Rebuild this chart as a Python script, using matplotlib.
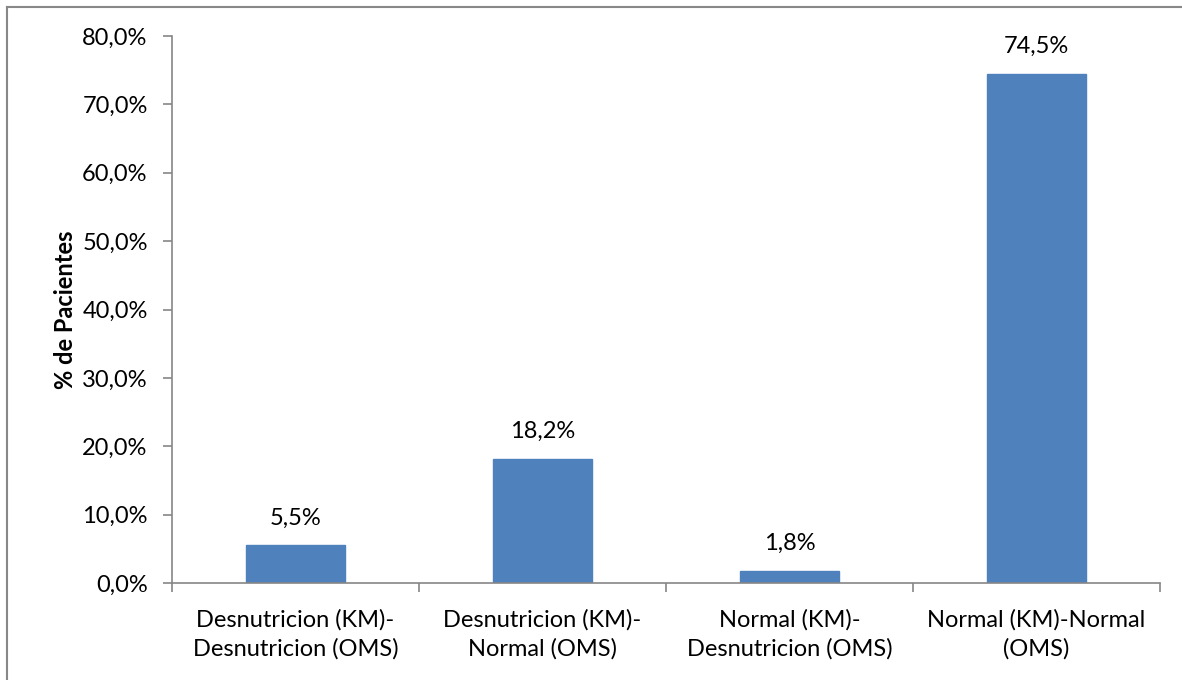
import matplotlib
matplotlib.use("Agg")
import matplotlib.pyplot as plt
from matplotlib.lines import Line2D
import numpy as np

categories = ["Desnutricion (KM)-\nDesnutricion (OMS)",
              "Desnutricion (KM)-\nNormal (OMS)",
              "Normal (KM)-\nDesnutricion (OMS)",
              "Normal (KM)-Normal\n(OMS)"]
values = [5.5, 18.2, 1.8, 74.5]
value_labels = ["5,5%", "18,2%", "1,8%", "74,5%"]
yticks = [0, 10, 20, 30, 40, 50, 60, 70, 80]
ytick_labels = ["0,0%", "10,0%", "20,0%", "30,0%", "40,0%", "50,0%", "60,0%", "70,0%", "80,0%"]
ylabel = "% de Pacientes"

plt.rcParams['font.family'] = ['Lato', 'DejaVu Sans']
FS = 17
W, H = 1182, 680
fig = plt.figure(figsize=(W / 100, H / 100), dpi=100)
ax = fig.add_axes([172 / W, 1 - 583 / H, (1160 - 172) / W, (583 - 36) / H])

axis_color = "#868686"
x = np.arange(len(categories))
ax.bar(x, values, width=0.4, color="#4F81BD", edgecolor="#4F81BD", zorder=2)
for xi, v, lab in zip(x, values, value_labels):
    ax.annotate(lab, (xi, v), xytext=(0, 15), textcoords="offset points",
                ha="center", va="baseline", fontsize=FS)

ax.set_xlim(-0.5, len(categories) - 0.5)
ax.set_ylim(0, 80)
ax.set_yticks(yticks)
ax.set_yticklabels(ytick_labels, fontsize=FS)
ax.set_xticks(np.arange(-0.5, len(categories), 1.0))
ax.set_xticklabels([])
ax.set_xticks(x, minor=True)
ax.set_xticklabels(categories, minor=True, fontsize=FS, linespacing=1.4)
ax.tick_params(axis="x", which="minor", length=0, pad=19)
ax.tick_params(axis="x", which="major", length=6.5, width=1.2, color=axis_color, direction="out")
ax.tick_params(axis="y", length=6.5, width=1.2, color=axis_color, direction="out", pad=11)
for s in ["top", "right"]:
    ax.spines[s].set_visible(False)
for s in ["left", "bottom"]:
    ax.spines[s].set_color(axis_color)
    ax.spines[s].set_linewidth(1.2)
ax.set_ylabel(ylabel, fontsize=FS, fontweight="bold", labelpad=4)

# outer chart border
fig.add_artist(Line2D([6.5 / W, 6.5 / W], [0, 1 - 6.5 / H], transform=fig.transFigure,
                      color="#888888", lw=1.5))
fig.add_artist(Line2D([6.5 / W, 1], [1 - 6.5 / H, 1 - 6.5 / H], transform=fig.transFigure,
                      color="#888888", lw=1.5))

fig.savefig("out.png", dpi=100)
